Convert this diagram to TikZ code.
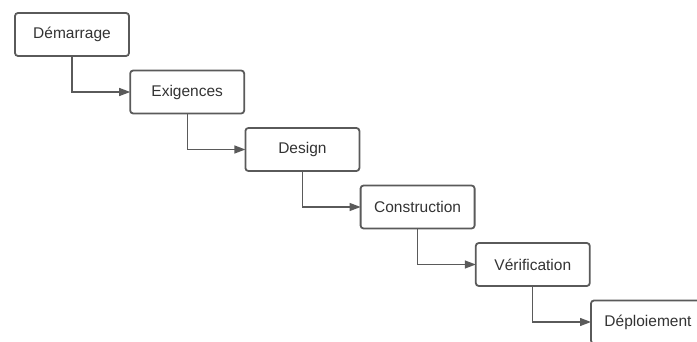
\documentclass[tikz,border=0pt]{standalone}
\usepackage{fontspec}
\setmainfont{Liberation Sans}
\usepackage{tikz}
\usetikzlibrary{arrows.meta,positioning}
\usepackage{xcolor}
\definecolor{lineGray}{HTML}{5A5A5A}
\definecolor{textGray}{HTML}{333333}

\begin{document}
\begin{tikzpicture}[
	  every node/.style={align=center,text=textGray,font=\fontsize{15.5}{18}\selectfont},
	  stage/.style={draw=lineGray,line width=1.8pt,rounded corners=3pt,fill=white,minimum width=114pt,minimum height=43pt,inner sep=0pt,outer sep=0pt},
	  to/.style={-{Triangle[length=11pt,width=8pt]},draw=lineGray,line width=1.3pt}]

	  \useasboundingbox (0,0) rectangle (697pt,-342pt);
	  \clip (0,0) rectangle (697pt,-342pt);

	  % Position the stages as a staircase
	  \node[stage,anchor=north west] (demarrage) at (15pt,-13pt) {Démarrage};
	  \node[stage,below right=14.5pt and 1.2pt of demarrage.south east] (exigences) {Exigences};
	  \node[stage,below right=14.5pt and 1.2pt of exigences.south east] (design) {Design};
	  \node[stage,below right=14.5pt and 1.2pt of design.south east] (construction) {Construction};
	  \node[stage,below right=14.5pt and 1.2pt of construction.south east] (verification) {Vérification};
	  \node[stage,below right=14.5pt and 1.2pt of verification.south east] (deploiement) {Déploiement};

	  \draw[to] (demarrage.south) |- (exigences.west);
	  \draw[to] (exigences.south) |- (design.west);
	  \draw[to] (design.south) |- (construction.west);
	  \draw[to] (construction.south) |- (verification.west);
	  \draw[to] (verification.south) |- (deploiement.west);
\end{tikzpicture}
\end{document}
